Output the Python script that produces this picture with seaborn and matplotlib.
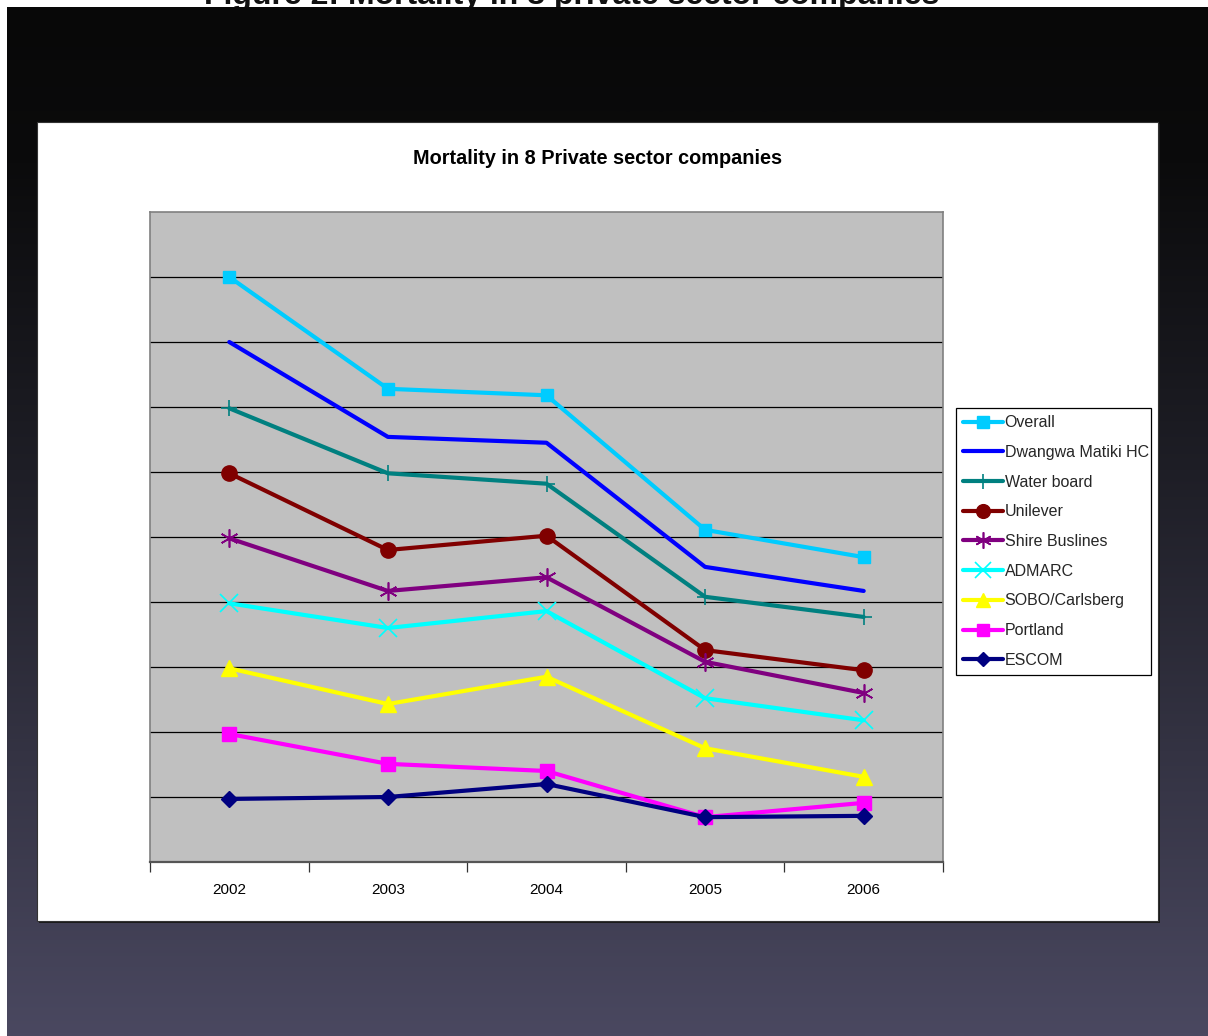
import numpy as np
import pandas as pd
import matplotlib
matplotlib.use("Agg")
import matplotlib.pyplot as plt
from matplotlib.patches import Rectangle
from matplotlib.colors import LinearSegmentedColormap
import seaborn as sns

# ---------------- data ----------------
years = ["2002", "2003", "2004", "2005", "2006"]
series_names = ["Overall", "Dwangwa Matiki HC", "Water board", "Unilever",
                "Shire Buslines", "ADMARC", "SOBO/Carlsberg", "Portland", "ESCOM"]
overall = [9.00, 7.28, 7.18, 5.11, 4.69]
dwangwa = [8.00, 6.54, 6.45, 4.54, 4.17]
water_board = [6.98, 5.98, 5.82, 4.08, 3.77]
unilever = [5.98, 4.80, 5.02, 3.26, 2.95]
shire = [4.98, 4.17, 4.38, 3.08, 2.60]
admarc = [3.98, 3.60, 3.86, 2.52, 2.18]
sobo = [2.98, 2.43, 2.85, 1.75, 1.31]
portland = [1.97, 1.51, 1.40, 0.69, 0.91]
escom = [0.97, 1.00, 1.20, 0.69, 0.71]
all_values = [overall, dwangwa, water_board, unilever, shire, admarc, sobo, portland, escom]

colors = ["#00CCFF", "#0000FF", "#008080", "#800000", "#800080",
          "#00FFFF", "#FFFF00", "#FF00FF", "#000080"]
markers = ["s", None, "+", "o", (6, 2, 0), "x", "^", "s", "D"]
msizes = [9, 0, 12, 11, 13, 13, 11, 10, 8]
mew = [1, 1, 1.2, 1, 1.2, 1.2, 1, 1, 1]

rows = []
for name, vals in zip(series_names, all_values):
    for i, v in enumerate(vals):
        rows.append({"series": name, "xi": i, "value": v})
df = pd.DataFrame(rows)

sns.set_theme(style="white")
plt.rcParams["font.family"] = ["Liberation Sans", "DejaVu Sans"]

W, H = 1208, 1036
fig = plt.figure(figsize=(W / 100, H / 100), dpi=100)

# ---------------- background (slide) ----------------
bg = fig.add_axes([0, 0, 1, 1], zorder=-10)
bg.set_xlim(0, W)
bg.set_ylim(H, 0)
bg.axis("off")
bg.add_patch(Rectangle((0, 0), W, H, facecolor="white", edgecolor="none", zorder=0))
bg.text(572, 4, "Figure 2: Mortality in 8 private sector companies", ha="center",
        va="baseline", fontsize=23, fontweight="bold", color="#111111", zorder=1,
        clip_on=True)
cmap = LinearSegmentedColormap.from_list(
    "slide", [(0, "#080808"), (0.15, "#0b0b0c"), (0.45, "#1e1e26"), (1.0, "#4a4860")])
grad = np.linspace(0, 1, 512).reshape(-1, 1)
bg.imshow(grad, cmap=cmap, aspect="auto", extent=[7, W, H, 7], zorder=2,
          interpolation="bilinear")
# white chart panel with a subtle shadow
bg.add_patch(Rectangle((39, 124), 1158 - 37, 921 - 122, facecolor="#1a1a1a",
                       edgecolor="none", zorder=3))
bg.add_patch(Rectangle((37, 122), 1158 - 37, 921 - 122, facecolor="white",
                       edgecolor="#333333", linewidth=0.8, zorder=4))
bg.text(598, 159, "Mortality in 8 Private sector companies", ha="center", va="center",
        fontsize=14.3, fontweight="bold", color="black", zorder=5)

# ---------------- chart ----------------
ax = fig.add_axes([150 / W, 1 - 862 / H, (943 - 150) / W, (862 - 212) / H])
ax.set_facecolor("#C0C0C0")

for name, col, mk, ms, mw in zip(series_names, colors, markers, msizes, mew):
    sub = df[df["series"] == name]
    sns.lineplot(data=sub, x="xi", y="value", ax=ax, color=col, linewidth=3.0,
                 marker=mk if mk is not None else "", markersize=ms,
                 markeredgecolor=col, markerfacecolor=col, markeredgewidth=mw,
                 label=name, legend=False, zorder=3)

ax.set_xlim(-0.5, 4.5)
ax.set_ylim(0, 10)
for g in range(1, 10):
    ax.axhline(g, color="black", linewidth=0.9, zorder=1)
ax.set_yticks([])
ax.set_xticks(range(len(years)))
ax.set_xticklabels(years, fontsize=11)
ax.set_xticks(np.arange(-0.5, 5, 1), minor=True)
ax.tick_params(axis="x", which="major", length=0, pad=15, colors="black")
ax.tick_params(axis="x", which="minor", length=7, width=0.9, direction="out",
               color="#333333", bottom=True)
ax.set_xlabel("")
ax.set_ylabel("")
for s in ["left", "right", "top"]:
    ax.spines[s].set_color("#808080")
    ax.spines[s].set_linewidth(1.2)
ax.spines["bottom"].set_color("#555555")
ax.spines["bottom"].set_linewidth(1.6)

handles, labels = ax.get_legend_handles_labels()
leg = fig.legend(handles, labels, loc="lower left",
                 bbox_to_anchor=(956 / W, 1 - 675 / H, (1151 - 956) / W, (675 - 402) / H),
                 mode="expand", borderaxespad=0, frameon=True, fancybox=False,
                 fontsize=11.5, handlelength=2.5, handletextpad=0.1,
                 labelspacing=0.92, borderpad=0.45, markerscale=0.9)
leg.get_frame().set_edgecolor("black")
leg.get_frame().set_linewidth(0.9)
leg.get_frame().set_facecolor("white")
leg.get_frame().set_alpha(1)

fig.savefig("out.png", dpi=100)
